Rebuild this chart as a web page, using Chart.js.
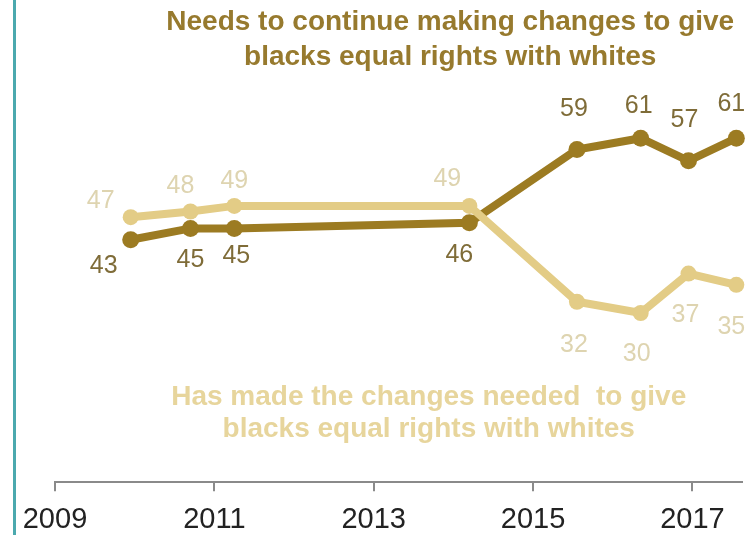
<!DOCTYPE html>
<html>
<head>
<meta charset="utf-8">
<script src="https://cdn.jsdelivr.net/npm/chart.js@4.4.1/dist/chart.umd.min.js"></script>
<style>
  html, body { margin: 0; padding: 0; background: #fff; }
  #wrap { position: relative; width: 750px; height: 535px; overflow: hidden; }
  #bar { position: absolute; left: 13px; top: 0; width: 3px; height: 535px; background: #4ba9ae; }
  canvas { position: absolute; left: 0; top: 0; }
</style>
</head>
<body>
<div id="wrap">
  <canvas id="chart" width="750" height="535"></canvas>
  <div id="bar"></div>
</div>
<script>
// Survey dates (decimal years) and shares (%)
const surveyDates = [2009.95, 2010.7, 2011.25, 2014.2, 2015.55, 2016.35, 2016.95, 2017.55];
const needsChanges = [43, 45, 45, 46, 59, 61, 57, 61];
const hasMadeChanges = [47, 48, 49, 49, 32, 30, 37, 35];
const xTicks = [2009, 2011, 2013, 2015, 2017];

const DARK = '#9c7b22';
const LIGHT = '#e3cc86';

// value label nudges in px (from the point centre)
const darkDx = [-27, 0, 2, -10, -3, -2, -4, -5];
const darkDy = [26, 32, 28, 32, -40, -32, -41, -34];
const lightDx = [-30, -10, 0, -22, -3, -4, -3, -5];
const lightDy = [-16, -25, -25, -27, 43, 41, 42, 42];

const pointLabels = {
    id: 'pointLabels',
    afterDatasetsDraw(chart) {
        const ctx = chart.ctx;
        const x = chart.scales.x, y = chart.scales.y;
        const sets = [
            { data: needsChanges, dx: darkDx, dy: darkDy, color: '#7f6c38' },
            { data: hasMadeChanges, dx: lightDx, dy: lightDy, color: '#ded4b0' },
        ];
        ctx.save();
        ctx.font = '25px "Liberation Sans", Arial, sans-serif';
        ctx.textAlign = 'center';
        ctx.textBaseline = 'middle';
        sets.forEach(s => {
            ctx.fillStyle = s.color;
            s.data.forEach((v, i) => {
                const px = x.getPixelForValue(surveyDates[i]) + s.dx[i];
                const py = y.getPixelForValue(v) + s.dy[i];
                ctx.fillText(String(v), px, py);
            });
        });

        // series annotations
        ctx.textBaseline = 'alphabetic';
        ctx.font = 'bold 28px "Liberation Sans", Arial, sans-serif';
        ctx.fillStyle = '#977a2e';
        ctx.fillText('Needs to continue making changes to give', x.getPixelForValue(2013.96), y.getPixelForValue(80.1));
        ctx.fillText('blacks equal rights with whites', x.getPixelForValue(2013.96), y.getPixelForValue(73.9));
        ctx.fillStyle = '#e7d59c';
        ctx.fillText('Has made the changes needed  to give', x.getPixelForValue(2013.69), y.getPixelForValue(13.65));
        ctx.fillText('blacks equal rights with whites', x.getPixelForValue(2013.69), y.getPixelForValue(7.98));
        ctx.restore();
    }
};

const toPoints = arr => arr.map((v, i) => ({ x: surveyDates[i], y: v }));

new Chart(document.getElementById('chart').getContext('2d'), {
    type: 'line',
    data: {
        datasets: [
            {
                label: 'Has made the changes needed',
                data: toPoints(hasMadeChanges),
                borderColor: LIGHT,
                backgroundColor: LIGHT,
                borderWidth: 8,
                pointRadius: 8,
                pointBorderWidth: 0,
                pointBackgroundColor: LIGHT,
                tension: 0,
                clip: false,
            },
            {
                label: 'Needs to continue making changes',
                data: toPoints(needsChanges),
                borderColor: DARK,
                backgroundColor: DARK,
                borderWidth: 8,
                pointRadius: 8.5,
                pointBorderWidth: 0,
                pointBackgroundColor: DARK,
                tension: 0,
                clip: false,
            },
        ],
    },
    options: {
        responsive: false,
        animation: false,
        layout: { padding: { left: 55, right: 0, top: 0, bottom: -13 } },
        plugins: { legend: { display: false }, tooltip: { enabled: false } },
        scales: {
            x: {
                type: 'linear',
                min: 2009,
                max: 2017.615,
                afterBuildTicks: scale => { scale.ticks = xTicks.map(v => ({ value: v })); },
                grid: { display: true, drawOnChartArea: false, drawTicks: true, tickLength: 9, color: '#8a8a8a', lineWidth: 2 },
                border: { display: true, color: '#8a8a8a', width: 2 },
                ticks: {
                    padding: 11,
                    maxRotation: 0,
                    autoSkip: false,
                    color: '#222',
                    font: { family: '"Liberation Sans", Arial, sans-serif', size: 29 },
                    callback: v => String(v),
                },
            },
            y: {
                display: false,
                min: 0,
                max: 84,
            },
        },
    },
    plugins: [pointLabels],
});
</script>
</body>
</html>
